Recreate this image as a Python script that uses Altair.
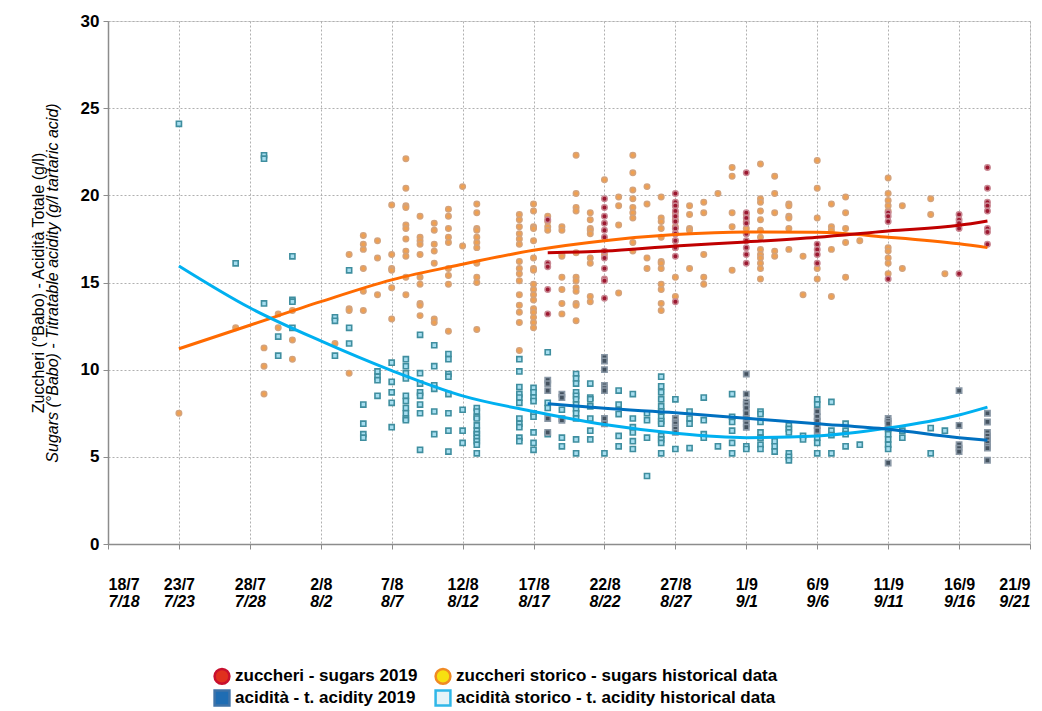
import altair as alt
import pandas as pd

# ---- x: days after 18 July 2019 ; y: value ----
# historical sugars (day -> list of values)
hs_days = [5, 9, 11, 12, 13, 16, 17, 18, 19, 20, 21, 22, 23, 24, 25, 26, 29, 30, 31, 32, 33, 34, 35, 36,
           37, 38, 39, 40, 41, 42, 43, 44, 45, 46, 47, 48, 49, 50, 51, 52, 53, 55, 56, 58, 59]
hs_vals = [[7.5], [12.4], [11.25, 10.2, 8.6], [13.2, 12.4], [13.4, 11.7, 10.6], [11.5],
           [16.6, 13.5, 13.4, 9.8], [17.7, 17.2, 16.9, 15.8, 14.5, 13.4], [17.4, 16.4, 14.3],
           [19.45, 16.6, 15.8, 15.7, 14.7, 12.9],
           [22.1, 20.4, 19.4, 19.3, 18.3, 18.1, 17.5, 16.8, 16.5, 15.3, 14.3],
           [18.8, 17.6, 17.4, 17.2, 16.6, 15.3, 14.9, 13.8, 13.7, 13.1],
           [18.4, 18.0, 17.2, 16.8, 16.1, 12.9, 12.7],
           [19.2, 18.8, 18.1, 17.6, 17.3, 15.8, 15.4, 14.9, 12.2],
           [20.5, 17.1],
           [19.5, 19.0, 18.1, 18.0, 17.6, 17.3, 17.0, 16.1, 15.3, 15.0, 12.3],
           [18.9, 18.6, 18.2, 17.8, 17.5, 17.2, 16.2, 15.8, 15.5, 15.1, 14.3, 13.7, 13.3, 12.7, 11.1],
           [19.5, 19.1, 18.2, 18.1, 17.4, 16.4, 15.8, 15.7, 14.9, 14.6, 14.3, 14.0, 13.5, 13.3, 13.0, 12.7, 12.4],
           [18.8, 18.5, 18.2, 18.0],
           [18.2, 18.0, 16.6, 16.5, 15.3, 14.6, 13.8, 13.2],
           [22.3, 20.1, 19.3, 19.1, 16.7, 15.3, 15.1, 14.7, 14.5, 13.8, 13.7, 12.8],
           [19.0, 18.6, 18.1, 18.0, 17.8, 16.4, 16.1, 14.2, 13.9],
           [20.9, 16.6],
           [19.9, 19.4, 18.3, 14.4],
           [22.3, 21.3, 20.3, 19.8, 19.3, 19.0, 18.7, 17.3, 16.8],
           [20.5, 19.5, 16.4, 15.8],
           [19.9, 18.7, 18.5, 18.1, 17.6, 16.2, 16.1, 15.8, 14.9, 14.6, 13.8, 13.4],
           [19.4, 19.0, 18.6, 18.2, 17.8, 17.4, 17.0, 15.3, 14.2],
           [19.4, 18.9, 18.1, 18.0, 15.8],
           [19.6, 19.0, 16.6, 15.3, 14.9],
           [20.1],
           [21.6, 21.1, 19.0, 18.2, 15.7],
           [18.9, 18.5, 18.1, 17.8],
           [21.8, 19.8, 19.6, 19.1, 18.6, 18.0, 17.6, 16.9, 16.6, 16.4, 16.1, 15.8, 15.2],
           [21.1, 20.1, 19.0, 16.8, 16.5],
           [19.5, 19.4, 18.8, 18.7, 18.1, 16.9],
           [16.5, 14.3],
           [22.0, 20.4, 18.7, 15.8, 15.2],
           [19.5, 18.2, 18.0, 16.9, 14.2],
           [19.9, 19.0, 18.1, 17.3, 15.3],
           [17.4],
           [21.0, 20.1, 19.7, 19.4, 19.1, 17.0, 16.8, 16.4, 16.1, 15.5],
           [19.4, 15.8],
           [19.8, 18.9],
           [15.5]]

# sugars 2019
ss_days = [31, 35, 40, 45, 50, 55, 60, 62]
ss_vals = [[18.6, 16.1, 15.9, 14.6, 13.2],
           [19.8, 19.3, 18.8, 18.4, 18.0, 17.6, 16.8, 16.4, 15.8, 15.2, 15.1, 14.1],
           [20.1, 19.6, 19.4, 19.1, 18.8, 18.5, 18.1, 17.8, 17.4, 17.0, 16.5, 13.9],
           [21.3, 19.0, 18.7, 18.4, 17.8, 17.4, 17.0, 16.6, 16.1],
           [17.2, 16.9, 16.6, 16.1],
           [19.0, 18.8, 18.5, 15.2],
           [18.9, 18.6, 18.4, 18.1, 15.5],
           [21.6, 20.4, 19.6, 19.4, 19.1, 18.1, 17.9, 17.2]]

# historical titratable acidity
ha_days = [5, 9, 11, 12, 13, 16, 17, 18, 19, 20, 21, 22, 23, 24, 25, 26, 29, 30, 31, 32, 33, 34, 35, 36,
           37, 38, 39, 40, 41, 42, 43, 44, 45, 46, 47, 48, 49, 50, 51, 52, 53, 55, 56, 58, 59, 62]
ha_vals = [[24.1], [16.1], [22.3, 22.1, 13.8], [11.9, 10.8], [16.5, 14.0, 13.9, 12.4], [13.0, 12.8, 10.8],
           [15.7, 12.4, 11.5], [8.0, 6.9, 6.3, 6.1], [9.9, 9.6, 9.4, 8.5], [10.4, 9.3, 8.7, 8.1, 6.7],
           [10.6, 10.2, 9.8, 9.5, 8.5, 8.2, 7.8, 7.5, 7.2, 7.1],
           [12.0, 9.8, 9.2, 8.7, 8.5, 8.0, 7.5, 5.4],
           [11.4, 10.2, 9.1, 8.9, 7.6, 6.3],
           [10.9, 10.6, 9.75, 9.6, 8.6, 7.5, 6.5, 5.3],
           [7.7, 6.5, 5.8],
           [7.8, 7.6, 7.3, 7.2, 6.8, 6.5, 6.3, 6.1, 5.9, 5.7, 5.2],
           [10.6, 9.9, 9.0, 8.6, 8.4, 8.1, 7.2, 6.9, 6.7, 6.1, 5.9],
           [8.95, 8.7, 8.4, 8.2, 7.5, 7.3, 6.4, 5.8, 5.4],
           [11.0, 8.1, 7.8, 6.3],
           [7.7, 6.1, 5.6],
           [9.75, 9.5, 9.2, 8.7, 8.5, 8.3, 8.0, 7.75, 7.5, 7.2, 6.0, 5.2],
           [9.2, 8.4, 8.3, 7.9, 7.2, 6.5, 6.0],
           [5.2],
           [8.8, 8.0, 7.45, 6.2, 5.6],
           [8.6, 7.2, 6.7, 6.4, 5.9, 5.45],
           [7.5, 7.1, 6.1, 3.9],
           [9.6, 9.05, 8.7, 8.3, 7.9, 7.6, 7.3, 7.05, 6.9, 6.2, 6.0, 5.8, 5.2],
           [8.3, 5.45],
           [7.6, 7.2, 6.9, 5.5],
           [8.4, 7.1, 6.3, 6.1],
           [5.6],
           [8.6, 7.3, 7.0, 6.5, 5.8, 5.2],
           [5.6, 5.45],
           [7.6, 7.45, 7.0, 6.4, 6.1, 5.7, 5.45],
           [5.9, 5.6, 5.3],
           [6.8, 6.6, 6.4, 5.2, 5.0, 4.8],
           [6.2, 6.0],
           [8.3, 8.0, 6.1, 5.8, 5.2],
           [8.15, 6.5, 6.25, 5.2],
           [6.9, 6.5, 6.3, 5.6],
           [5.7],
           [6.6, 6.3, 6.0, 5.7, 5.45],
           [6.5, 6.1],
           [6.65, 5.2],
           [6.5],
           [6.1]]

# titratable acidity 2019
sa_days = [31, 32, 35, 40, 45, 50, 55, 60, 62]
sa_vals = [[9.4, 9.2, 8.8, 7.2, 6.4],
           [8.6, 8.4, 7.2, 7.1],
           [10.7, 10.5, 10.0, 9.1, 8.95, 8.8, 7.2, 6.9],
           [7.2, 7.0, 6.9, 6.7, 6.6, 6.4],
           [9.75, 8.6, 8.15, 8.0, 7.8, 7.5, 7.2, 6.9, 6.7],
           [7.6, 7.3, 7.05, 6.8, 6.5],
           [7.2, 7.05, 6.9, 4.65],
           [8.8, 6.8, 5.7, 5.5, 5.3],
           [7.5, 7.0, 6.4, 6.2, 6.0, 5.8, 5.6, 5.5, 4.8]]

# trend lines
hs_trend_days = [5, 10, 15, 20, 25, 30, 35, 40, 45, 50, 55, 60, 62]
hs_trend_vals = [11.2, 12.55, 13.9, 15.15, 16.05, 16.85, 17.4, 17.75, 17.9, 17.88, 17.6, 17.22, 17.0]
ha_trend_days = [5, 10, 15, 20, 25, 30, 35, 40, 45, 50, 55, 60, 62]
ha_trend_vals = [15.95, 13.55, 11.65, 9.95, 8.5, 7.6, 6.85, 6.35, 6.1, 6.2, 6.65, 7.4, 7.85]
ss_trend_days = [31, 35, 40, 45, 50, 55, 60, 62]
ss_trend_vals = [16.7, 16.8, 17.1, 17.33, 17.6, 17.96, 18.28, 18.53]
sa_trend_days = [31, 35, 40, 45, 50, 55, 60, 62]
sa_trend_vals = [8.05, 7.78, 7.53, 7.21, 6.9, 6.58, 6.1, 5.95]

x_ticks = list(range(0, 66, 5))
y_ticks = [0, 5, 10, 15, 20, 25, 30]

legend_labels = ["zuccheri - sugars 2019", "zuccheri storico - sugars historical data",
                 "acidità - t. acidity 2019", "acidità storico - t. acidity historical data"]
legend_fill = ["#e0301e", "#f7e010", "#1f6db3", "#e4f3f8"]
legend_stroke = ["#c8102e", "#f08a24", "#3f73a8", "#2fb7e8"]
legend_shape = ["circle", "circle", "square", "square"]


def explode(days, vals):
    rows = []
    for d, vs in zip(days, vals):
        for v in vs:
            rows.append({"day": d, "value": v})
    return pd.DataFrame(rows)


FONT = "Liberation Sans"
NARROW = "Liberation Sans Narrow, Liberation Sans, Arial, sans-serif"

xscale = alt.Scale(domain=[0, 65], nice=False, zero=False)
yscale = alt.Scale(domain=[0, 30], nice=False)

x_axis1 = alt.Axis(values=x_ticks, title=None, labelOverlap=False,
                   labelExpr="timeFormat(datetime(2019, 6, 18 + datum.value), '%-d/%-m')",
                   labelFont=NARROW, labelFontSize=16, labelFontWeight="bold", labelColor="black",
                   labelPadding=27, tickSize=5, tickColor="#8c8c8c", domainColor="#8c8c8c", domainWidth=1.5,
                   grid=True, gridDash=[2, 2], gridColor="#b0b0b0", gridWidth=1)
y_axis1 = alt.Axis(values=y_ticks, title="Zuccheri (°Babo) - Acidità Totale (g/l)",
                   titleFont=FONT, titleFontSize=16, titleFontWeight="normal", titleColor="black",
                   titlePadding=34,
                   labelFont=FONT, labelFontSize=17, labelFontWeight="bold", labelColor="black",
                   labelPadding=4, tickSize=5, tickColor="#8c8c8c", domainColor="#8c8c8c", domainWidth=1.5,
                   grid=True, gridDash=[2, 2], gridColor="#b0b0b0", gridWidth=1)

x_axis2 = alt.Axis(values=x_ticks, title=None, orient="bottom", labelOverlap=False,
                   labelExpr="timeFormat(datetime(2019, 6, 18 + datum.value), '%-m/%-d')",
                   labelFont=NARROW, labelFontSize=16, labelFontWeight="bold", labelFontStyle="italic",
                   labelColor="black", labelPadding=49, ticks=False, domain=False, grid=False)
y_axis2 = alt.Axis(values=y_ticks, orient="left", labels=False, ticks=False, domain=False, grid=False,
                   title="Sugars (°Babo) - Titratable acidity (g/l tartaric acid)",
                   titleFont=FONT, titleFontSize=16, titleFontWeight="normal", titleFontStyle="italic",
                   titleColor="black", titlePadding=48)


def pts(mark):
    return mark.encode(x=alt.X("day:Q", scale=xscale, axis=x_axis1),
                       y=alt.Y("value:Q", scale=yscale, axis=y_axis1))


def trend(days, vals, color):
    df = pd.DataFrame({"day": days, "value": vals})
    return alt.Chart(df).mark_line(color=color, strokeWidth=3, interpolate="monotone").encode(
        x=alt.X("day:Q", scale=xscale, axis=x_axis1),
        y=alt.Y("value:Q", scale=yscale, axis=y_axis1))


hs_pts = pts(alt.Chart(explode(hs_days, hs_vals)).mark_circle(
    size=30, color="#f0a050", stroke="#d4a37c", strokeWidth=1.5, opacity=1))
ha_pts = pts(alt.Chart(explode(ha_days, ha_vals)).mark_square(
    size=26, color="#a6def0", stroke="#3f8e9f", strokeWidth=1.6, opacity=1))
ss_pts = pts(alt.Chart(explode(ss_days, ss_vals)).mark_circle(
    size=30, color="#9c1830", stroke="#c98893", strokeWidth=1.5, opacity=1))
sa_pts = pts(alt.Chart(explode(sa_days, sa_vals)).mark_square(
    size=28, color="#44525f", stroke="#8a98a6", strokeWidth=1.6, opacity=1))

main = alt.layer(
    hs_pts, ha_pts, ss_pts, sa_pts,
    trend(hs_trend_days, hs_trend_vals, "#ff6a00"),
    trend(ha_trend_days, ha_trend_vals, "#00b0f0"),
    trend(ss_trend_days, ss_trend_vals, "#c00000"),
    trend(sa_trend_days, sa_trend_vals, "#0070c0"),
)

leg_df = pd.DataFrame({"series": legend_labels, "day": [None] * 4, "value": [None] * 4})
legend_layer = alt.Chart(leg_df).mark_point(filled=True, opacity=1).encode(
    x=alt.X("day:Q", scale=xscale, axis=x_axis2),
    y=alt.Y("value:Q", scale=yscale, axis=y_axis2),
    fill=alt.Fill("series:N", scale=alt.Scale(domain=legend_labels, range=legend_fill),
                  legend=alt.Legend(title=None, orient="none", legendX=105, legendY=646, columns=2,
                                    direction="horizontal",
                                    labelFont=NARROW, labelFontSize=17, labelFontWeight="bold",
                                    labelColor="black", labelLimit=0, symbolSize=220,
                                    symbolStrokeWidth=2.5, columnPadding=12, rowPadding=-4,
                                    labelOffset=4)),
    stroke=alt.Stroke("series:N", scale=alt.Scale(domain=legend_labels, range=legend_stroke),
                      legend=alt.Legend(title=None)),
    shape=alt.Shape("series:N", scale=alt.Scale(domain=legend_labels, range=legend_shape),
                    legend=alt.Legend(title=None)),
)

chart = alt.layer(main, legend_layer).resolve_axis(x="independent", y="independent").properties(
    width=922, height=523,
    padding={"left": 22, "top": 4, "right": 0, "bottom": 0},
).configure_view(stroke=None).configure(background="white")

chart.save("out.html", embed_options={"renderer": "svg", "actions": False})
